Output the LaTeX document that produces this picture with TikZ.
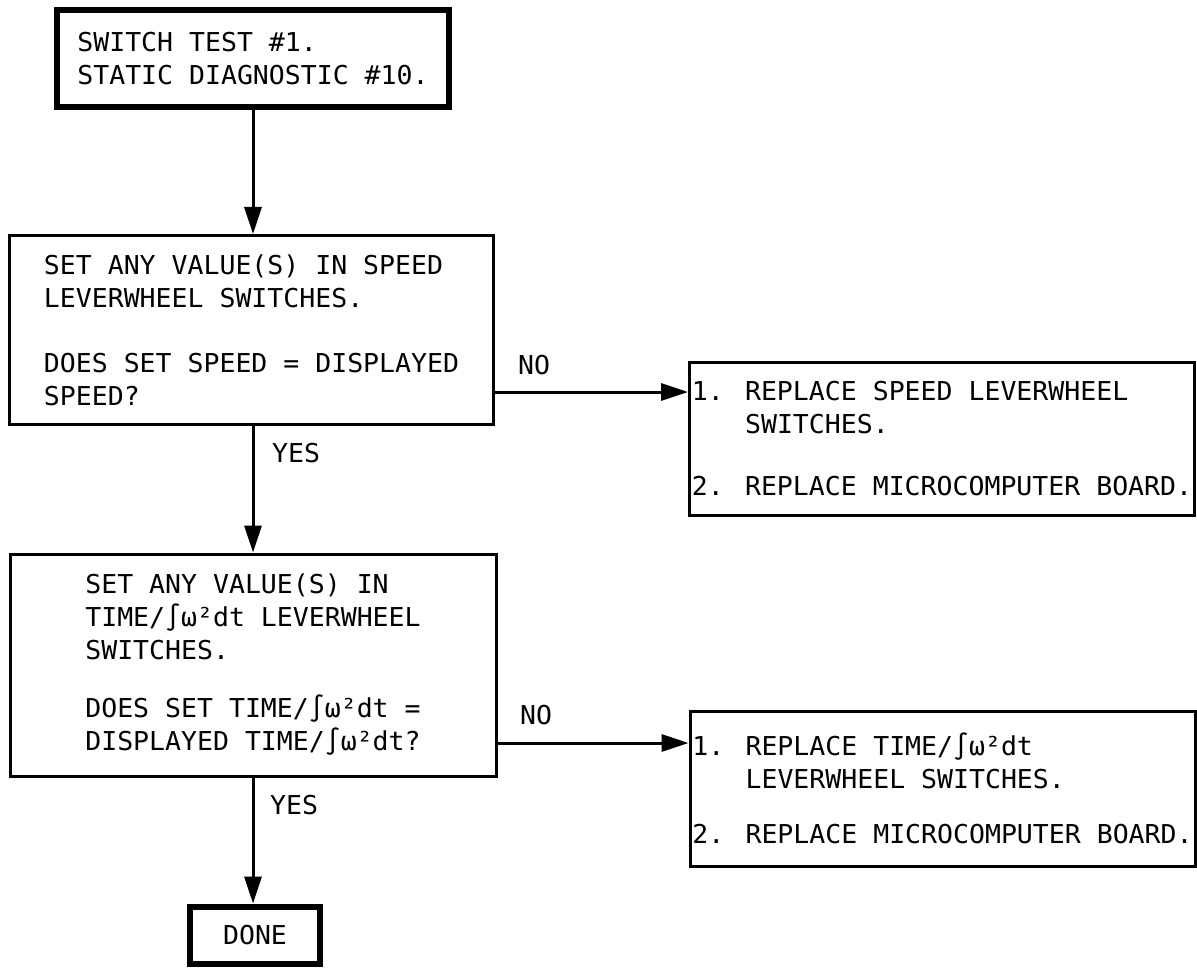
\documentclass[tikz,border=0pt]{standalone}
\usepackage{fontspec}
\newfontfamily\diagfont[FakeStretch=1.02]{DejaVu Sans Mono}
\usetikzlibrary{arrows.meta}
\begin{document}
\begin{tikzpicture}[x=1pt,y=-1pt,
  box/.style={draw, line width=3pt, align=left, inner sep=0pt,
    font=\diagfont\fontsize{26}{33}\selectfont},
  thickbox/.style={box, line width=6pt},
  conn/.style={line width=3pt, -{Triangle[length=27pt,width=17pt]}},
  lbl/.style={font=\diagfont\fontsize{26}{33}\selectfont, inner sep=0pt, anchor=west}]
\useasboundingbox (0,0) rectangle (1197,968);

\node[thickbox, minimum width=392pt, minimum height=97pt] (b1) at (253,59)
  {SWITCH TEST \#1.\\STATIC DIAGNOSTIC \#10.};

\node[box, minimum width=484pt, minimum height=189pt] (b2) at (251.5,330)
  {SET ANY VALUE(S) IN SPEED\\LEVERWHEEL SWITCHES.\\[32pt]DOES SET SPEED = DISPLAYED\\SPEED?};

\node[box, minimum width=505pt, minimum height=153pt] (r1) at (942,438.5)
  {1. REPLACE SPEED LEVERWHEEL\\\phantom{1. }SWITCHES.\\[29pt]2. REPLACE MICROCOMPUTER BOARD.};

\node[box, minimum width=486pt, minimum height=222pt] (b3) at (253,665)
  {SET ANY VALUE(S) IN\\TIME/∫ω²dt LEVERWHEEL\\SWITCHES.\\[25pt]DOES SET TIME/∫ω²dt =\\DISPLAYED TIME/∫ω²dt?};

\node[box, minimum width=505pt, minimum height=155pt] (r2) at (942.5,788.5)
  {1. REPLACE TIME/∫ω²dt\\\phantom{1. }LEVERWHEEL SWITCHES.\\[22pt]2. REPLACE MICROCOMPUTER BOARD.};

\node[thickbox, minimum width=130pt, minimum height=57pt] (b4) at (255,935) {DONE};

\coordinate (n1) at ([yshift=-62pt]b2.east);
\coordinate (n2) at ([yshift=-78pt]b3.east);

\draw[conn] (b1.south) -- (b1.south |- b2.north);
\draw[conn] (b3.north |- b2.south) -- (b3.north);
\draw[conn] (b3.south) -- (b3.south |- b4.north);
\draw[conn] (n1) -- (n1 -| r1.west);
\draw[conn] (n2) -- (n2 -| r2.west);

\node[lbl] (no1) at (518,365) {NO};
\node[lbl] (yes1) at (272,453) {YES};
\node[lbl] (no2) at (520,715) {NO};
\node[lbl] (yes2) at (270,805) {YES};
\end{tikzpicture}
\end{document}
